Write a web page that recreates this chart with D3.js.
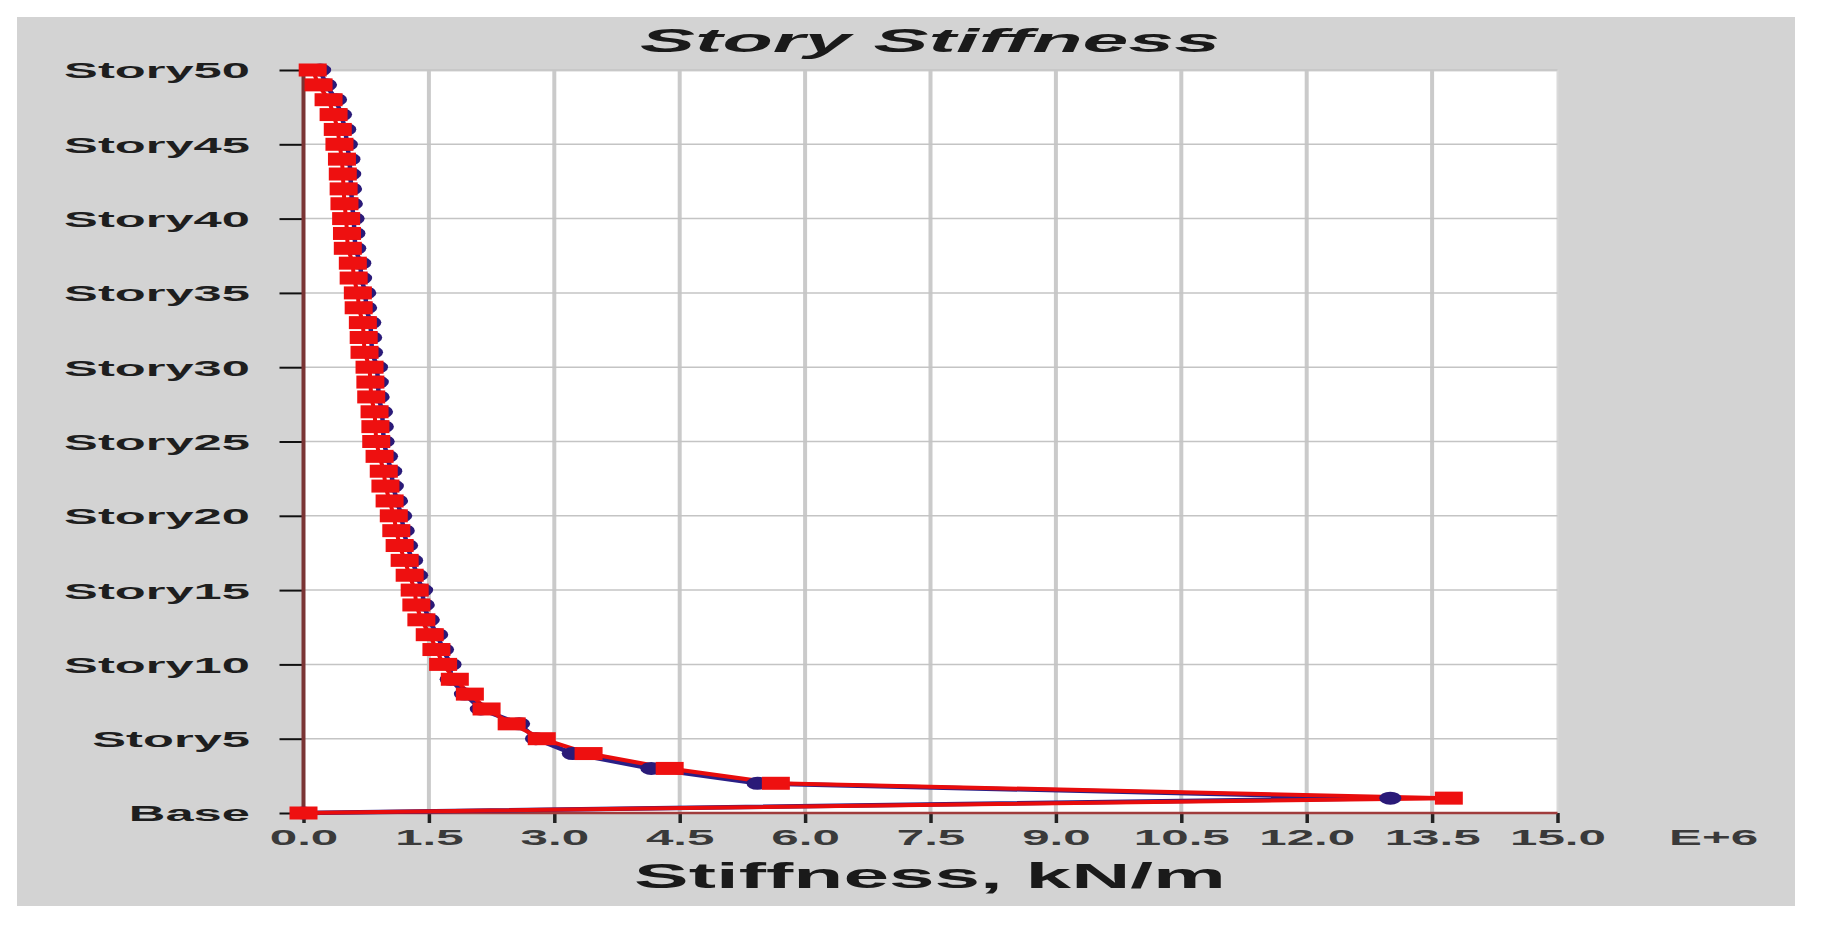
<!DOCTYPE html>
<html>
<head>
<meta charset="utf-8">
<script src="https://cdn.jsdelivr.net/npm/d3@7"></script>
<style>
    body { margin: 0; background: #fff; }
    svg { display: block; }
    text { font-family: "Liberation Sans", Arial, sans-serif; }
</style>
</head>
<body>
<div id="wrapper"></div>
<script>
// story levels, bottom to top
const stories = ['Base', 'Story1', 'Story2', 'Story3', 'Story4', 'Story5', 'Story6', 'Story7', 'Story8', 'Story9',
    'Story10', 'Story11', 'Story12', 'Story13', 'Story14', 'Story15', 'Story16', 'Story17', 'Story18', 'Story19',
    'Story20', 'Story21', 'Story22', 'Story23', 'Story24', 'Story25', 'Story26', 'Story27', 'Story28', 'Story29',
    'Story30', 'Story31', 'Story32', 'Story33', 'Story34', 'Story35', 'Story36', 'Story37', 'Story38', 'Story39',
    'Story40', 'Story41', 'Story42', 'Story43', 'Story44', 'Story45', 'Story46', 'Story47', 'Story48', 'Story49',
    'Story50']

// stiffness in E+6 kN/m
const stiffnessBlue = [0, 13.0, 5.43, 4.16, 3.22, 2.78, 2.58, 2.12, 1.93, 1.76,
    1.76, 1.67, 1.60, 1.50, 1.44, 1.42, 1.36, 1.30, 1.24, 1.20,
    1.17, 1.12, 1.07, 1.05, 1.00, 0.96, 0.95, 0.94, 0.90, 0.89,
    0.88, 0.82, 0.81, 0.80, 0.75, 0.74, 0.69, 0.68, 0.62, 0.61,
    0.60, 0.58, 0.57, 0.56, 0.55, 0.52, 0.50, 0.45, 0.39, 0.27,
    0.20]
const stiffnessRed = [0, 13.7, 5.65, 4.38, 3.41, 2.85, 2.49, 2.19, 1.99, 1.81,
    1.67, 1.59, 1.51, 1.41, 1.35, 1.33, 1.27, 1.21, 1.15, 1.11,
    1.08, 1.03, 0.98, 0.96, 0.91, 0.87, 0.86, 0.85, 0.81, 0.80,
    0.79, 0.73, 0.72, 0.71, 0.66, 0.65, 0.60, 0.59, 0.53, 0.52,
    0.51, 0.49, 0.48, 0.47, 0.46, 0.43, 0.41, 0.36, 0.30, 0.18,
    0.11]

const storyTicks = ['Base', 'Story5', 'Story10', 'Story15', 'Story20', 'Story25', 'Story30', 'Story35', 'Story40', 'Story45', 'Story50']
const xTicks = [0, 1.5, 3.0, 4.5, 6.0, 7.5, 9.0, 10.5, 12.0, 13.5, 15.0]

const titleText = 'Story Stiffness'
const xTitleText = 'Stiffness, kN/m'
const xUnitText = 'E+6'

let dimensions = {
    width: 1822,
    height: 929,
    margin: {
        top: 70,
        right: 264.5,
        bottom: 116,
        left: 303.5
    }
}

// the picture is stretched sideways: find the x-scale that gives a sample string a given width
function stretchFor (svg, sample, size, weight, style, width) {
    const t = svg.append('text')
        .attr('font-size', size)
        .attr('font-weight', weight)
        .attr('font-style', style)
        .text(sample)
    const w = t.node().getComputedTextLength()
    t.remove()
    return width / w
}

function drawChart () {
    dimensions.boundedWidth = dimensions.width - dimensions.margin.left - dimensions.margin.right
    dimensions.boundedHeight = dimensions.height - dimensions.margin.top - dimensions.margin.bottom

    const svg = d3.select('#wrapper').append('svg')
        .attr('width', dimensions.width)
        .attr('height', dimensions.height)

    const yLabelStretch = stretchFor(svg, 'Story50', 22, 'bold', 'normal', 186)
    const xLabelStretch = stretchFor(svg, '10.5', 22, 'bold', 'normal', 96)
    const titleStretch = stretchFor(svg, titleText, 34, 'bold', 'italic', 580)
    const xTitleStretch = stretchFor(svg, xTitleText, 36, 'bold', 'normal', 592)

    // gray panel
    svg.append('rect')
        .attr('x', 17).attr('y', 17)
        .attr('width', 1778).attr('height', 889)
        .attr('fill', '#d3d3d3')

    const bounds = svg.append('g')
        .attr('transform', `translate(${dimensions.margin.left}, ${dimensions.margin.top})`)

    const xScale = d3.scaleLinear()
        .domain([0, 15])
        .range([0, dimensions.boundedWidth])

    const yScale = d3.scalePoint()
        .domain(stories)
        .range([dimensions.boundedHeight, 0])

    // plot background
    bounds.append('rect')
        .attr('x', 0).attr('y', 1.5)
        .attr('width', dimensions.boundedWidth)
        .attr('height', dimensions.boundedHeight - 1.5)
        .attr('fill', '#fff')

    // grid
    bounds.append('g').selectAll('line')
        .data(xTicks.slice(1))
        .join('line')
        .attr('x1', d => xScale(d)).attr('x2', d => xScale(d))
        .attr('y1', 0).attr('y2', dimensions.boundedHeight)
        .attr('stroke', d => d === 15 ? '#dadada' : '#cacaca')
        .attr('stroke-width', d => d === 15 ? 2 : 4)

    bounds.append('g').selectAll('line')
        .data(storyTicks.slice(1))
        .join('line')
        .attr('x1', 0).attr('x2', dimensions.boundedWidth)
        .attr('y1', d => yScale(d)).attr('y2', d => yScale(d))
        .attr('stroke', '#c4c4c4')
        .attr('stroke-width', 1.5)

    // y axis
    const yAxisGenerator = d3.axisLeft(yScale)
        .tickValues(storyTicks)
        .tickSize(24)
        .tickSizeOuter(0)

    const yAxis = bounds.append('g').call(yAxisGenerator)
    yAxis.select('.domain').remove()
    yAxis.selectAll('line').attr('stroke', '#111').attr('stroke-width', 2)
    yAxis.selectAll('text')
        .attr('x', 0)
        .attr('dy', '0.36em')
        .attr('transform', `translate(-53.5, 0) scale(${yLabelStretch}, 1)`)
        .attr('fill', '#1e1e1e')
        .attr('font-size', 22)
        .attr('font-weight', 'bold')

    // x axis
    const xAxisGenerator = d3.axisBottom(xScale)
        .tickValues(xTicks)
        .tickFormat(d3.format('.1f'))
        .tickSize(10)
        .tickSizeOuter(0)

    const xAxis = bounds.append('g')
        .attr('transform', `translate(0, ${dimensions.boundedHeight})`)
        .call(xAxisGenerator)
    xAxis.select('.domain').remove()
    xAxis.selectAll('line').attr('stroke', '#222').attr('stroke-width', 3.5)
    xAxis.selectAll('text')
        .attr('y', 0)
        .attr('dy', 0)
        .attr('transform', `translate(0, 32) scale(${xLabelStretch}, 1)`)
        .attr('fill', '#3a3a3a')
        .attr('font-size', 22)
        .attr('font-weight', 'bold')

    // axis lines
    bounds.append('line')
        .attr('x1', 0).attr('x2', 0)
        .attr('y1', 0).attr('y2', dimensions.boundedHeight)
        .attr('stroke', '#7a3434')
        .attr('stroke-width', 4)

    bounds.append('line')
        .attr('x1', 0).attr('x2', dimensions.boundedWidth)
        .attr('y1', dimensions.boundedHeight).attr('y2', dimensions.boundedHeight)
        .attr('stroke', '#a03c3c')
        .attr('stroke-width', 2.5)

    // data
    const lineGenerator = values => d3.line()
        .x((d, i) => xScale(values[i]))
        .y(d => yScale(d))

    bounds.append('path')
        .attr('d', lineGenerator(stiffnessBlue)(stories))
        .attr('fill', 'none')
        .attr('stroke', '#2a1f86')
        .attr('stroke-width', 4.5)

    bounds.append('path')
        .attr('d', lineGenerator(stiffnessRed)(stories))
        .attr('fill', 'none')
        .attr('stroke', '#e80c0c')
        .attr('stroke-width', 4)

    bounds.append('g').selectAll('ellipse')
        .data(stories)
        .join('ellipse')
        .attr('cx', (d, i) => xScale(stiffnessBlue[i]))
        .attr('cy', d => yScale(d))
        .attr('rx', 11)
        .attr('ry', 6.5)
        .attr('fill', '#2a1a78')

    bounds.append('g').selectAll('rect')
        .data(stories)
        .join('rect')
        .attr('x', (d, i) => xScale(stiffnessRed[i]) - 14)
        .attr('y', d => yScale(d) - 6.5)
        .attr('width', 28)
        .attr('height', 13)
        .attr('fill', '#ee1010')

    // texts
    svg.append('text')
        .attr('transform', `translate(930, 52) scale(${titleStretch}, 1)`)
        .attr('text-anchor', 'middle')
        .attr('font-size', 34)
        .attr('font-weight', 'bold')
        .attr('font-style', 'italic')
        .attr('fill', '#1a1a1a')
        .text(titleText)

    svg.append('text')
        .attr('transform', `translate(930, 888) scale(${xTitleStretch}, 1)`)
        .attr('text-anchor', 'middle')
        .attr('font-size', 36)
        .attr('font-weight', 'bold')
        .attr('fill', '#1a1a1a')
        .text(xTitleText)

    svg.append('text')
        .attr('transform', `translate(1669, 845) scale(${xLabelStretch}, 1)`)
        .attr('font-size', 22)
        .attr('font-weight', 'bold')
        .attr('fill', '#3a3a3a')
        .text(xUnitText)
}

drawChart()
</script>
</body>
</html>
